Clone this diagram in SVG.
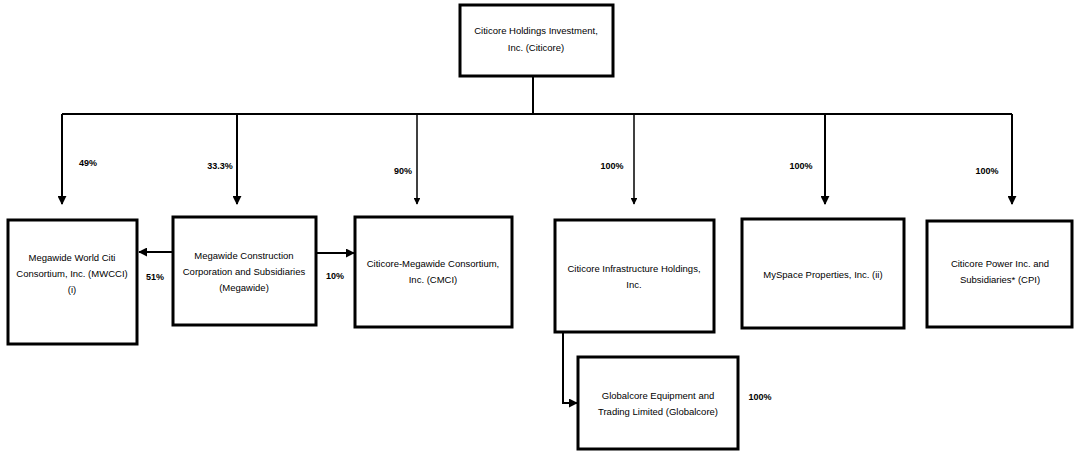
<svg xmlns="http://www.w3.org/2000/svg" width="1076" height="451" viewBox="0 0 1076 451">
<style>
.box{fill:#fff;stroke:#000;stroke-width:3}
.t{font-family:"Liberation Sans",Arial,sans-serif;font-size:9.5px;fill:#000;text-anchor:middle}
.p{font-family:"Liberation Sans",Arial,sans-serif;font-size:9px;font-weight:bold;fill:#000;text-anchor:middle}
.ln{fill:none;stroke:#000;stroke-width:2}
</style>
<defs>
<marker id="ah" viewBox="0 0 10 10" refX="9" refY="5" markerWidth="4.5" markerHeight="4.5" orient="auto" markerUnits="strokeWidth">
<path d="M0,0 L10,5 L0,10 z" fill="#000"/>
</marker>
</defs>
<rect width="1076" height="451" fill="#fff"/>
<g id="connectors">
<path class="ln" d="M533,77 V114"/>
<path class="ln" d="M62,114 H1012"/>
<path class="ln" d="M62,114 V204" marker-end="url(#ah)"/>
<path class="ln" d="M237,114 V204" marker-end="url(#ah)"/>
<path class="ln" d="M417,114 V204" marker-end="url(#ah)" style="stroke-width:1.5"/>
<path class="ln" d="M634,114 V204" marker-end="url(#ah)" style="stroke-width:1.5"/>
<path class="ln" d="M825,114 V204" marker-end="url(#ah)"/>
<path class="ln" d="M1012,114 V204" marker-end="url(#ah)"/>
<path class="ln" d="M173,252 H139" marker-end="url(#ah)"/>
<path class="ln" d="M316,253 H354" marker-end="url(#ah)"/>
<path class="ln" d="M563,332 V403 H577" marker-end="url(#ah)"/>
<text class="p" x="88" y="166">49%</text>
<text class="p" x="220" y="169">33.3%</text>
<text class="p" x="403" y="174">90%</text>
<text class="p" x="612" y="169">100%</text>
<text class="p" x="801" y="169">100%</text>
<text class="p" x="987" y="174">100%</text>
<text class="p" x="155" y="280">51%</text>
<text class="p" x="335" y="279">10%</text>
<text class="p" x="760" y="400">100%</text>
</g>
<g id="citicore">
<rect class="box" x="460" y="5" width="153" height="71"/>
<text class="t" x="536" y="34">Citicore Holdings Investment,</text>
<text class="t" x="536" y="51">Inc. (Citicore)</text>
</g>
<g id="mwcci">
<rect class="box" x="8" y="220" width="129" height="124"/>
<text class="t" x="72" y="261">Megawide World Citi</text>
<text class="t" x="72" y="277">Consortium, Inc. (MWCCI)</text>
<text class="t" x="72" y="293">(i)</text>
</g>
<g id="megawide">
<rect class="box" x="173" y="217" width="143" height="108"/>
<text class="t" x="244" y="259">Megawide Construction</text>
<text class="t" x="244" y="275">Corporation and Subsidiaries</text>
<text class="t" x="244" y="291">(Megawide)</text>
</g>
<g id="cmci">
<rect class="box" x="355" y="217" width="157" height="110"/>
<text class="t" x="433" y="267">Citicore-Megawide Consortium,</text>
<text class="t" x="433" y="283">Inc. (CMCI)</text>
</g>
<g id="cihi">
<rect class="box" x="555" y="220" width="159" height="112"/>
<text class="t" x="634" y="272">Citicore Infrastructure Holdings,</text>
<text class="t" x="634" y="288">Inc.</text>
</g>
<g id="globalcore">
<rect class="box" x="578" y="357" width="160" height="92"/>
<text class="t" x="658" y="399">Globalcore Equipment and</text>
<text class="t" x="658" y="415">Trading Limited (Globalcore)</text>
</g>
<g id="myspace">
<rect class="box" x="742" y="219" width="162" height="109"/>
<text class="t" x="823" y="278">MySpace Properties, Inc. (ii)</text>
</g>
<g id="cpi">
<rect class="box" x="927" y="221" width="145" height="106"/>
<text class="t" x="1000" y="267">Citicore Power Inc. and</text>
<text class="t" x="1000" y="283">Subsidiaries* (CPI)</text>
</g>
</svg>
